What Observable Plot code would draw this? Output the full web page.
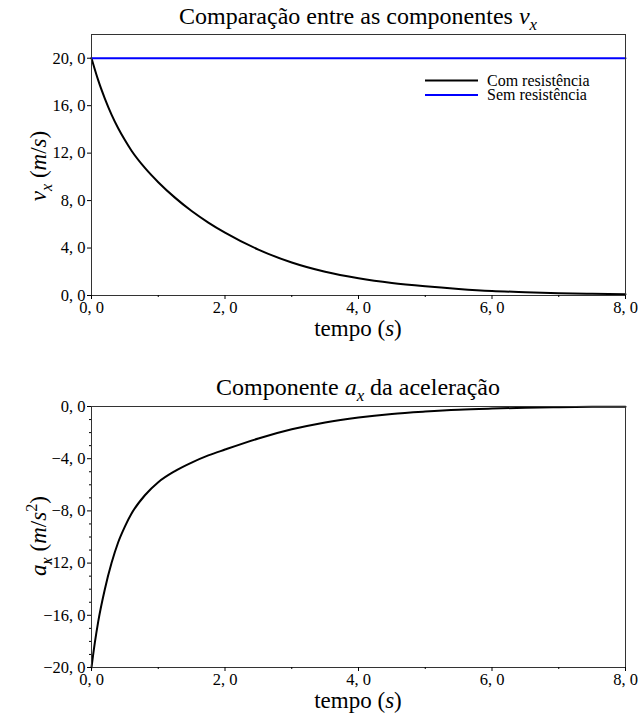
<!DOCTYPE html>
<html><head><meta charset="utf-8">
<script src="https://cdn.jsdelivr.net/npm/d3@7"></script>
<script src="https://cdn.jsdelivr.net/npm/@observablehq/plot@0.6"></script>
<style>
body{margin:0;background:#fff;}
#chart svg{display:block;}
#chart svg text{font-family:"Liberation Serif" !important;}
</style></head><body><div id="chart"></div>
<script>
// ---- data ----
const tempo = [0, 0.05, 0.1, 0.2, 0.3, 0.4, 0.5, 0.6, 0.8, 1.0, 1.25, 1.5, 1.75, 2.0, 2.5, 3.0, 3.5, 4.0, 4.5, 5.0, 5.5, 6.0, 6.5, 7.0, 7.5, 8.0];
const vComResistencia = [20, 19.05, 18.15, 16.6, 15.25, 14.1, 13.1, 12.2, 10.75, 9.55, 8.25, 7.12, 6.15, 5.3, 3.87, 2.78, 2.0, 1.45, 1.05, 0.77, 0.55, 0.38, 0.28, 0.2, 0.15, 0.11];
const aComResistencia = [-20, -18.1, -16.5, -14.0, -12.0, -10.4, -9.2, -8.2, -6.8, -5.8, -4.95, -4.3, -3.75, -3.3, -2.45, -1.75, -1.22, -0.84, -0.57, -0.39, -0.25, -0.16, -0.09, -0.05, -0.02, -0.01];
const tempoSemResistencia = [0, 8];
const vSemResistencia = [20, 20];

const xTicks = [0, 2, 4, 6, 8];
const xMinorTicks = [1, 3, 5, 7];
const vTicks = [0, 4, 8, 12, 16, 20];
const aTicks = [-20, -16, -12, -8, -4, 0];
const aMinorTicks = [-19, -18, -17, -15, -14, -13, -11, -10, -9, -7, -6, -5, -3, -2, -1];
const legendLabels = ["Com resistência", "Sem resistência"];
const legendColors = ["black", "#0000ff"];

// ---- helpers ----
const FONT = "Liberation Serif";
const TICK_FS = 16.5;
const fmt = d => (d < 0 ? "\u2212" : "") + Math.abs(d).toFixed(1).replace(".", ", ");
const rowsV = tempo.map((t, i) => ({t, v: vComResistencia[i]}));
const rowsA = tempo.map((t, i) => ({t, a: aComResistencia[i]}));
const rowsSem = tempoSemResistencia.map((t, i) => ({t, v: vSemResistencia[i]}));

function rich(svg, x, y, parts, size, rotate) {
  const t = svg.append("text")
    .attr("font-family", FONT).attr("font-size", size).attr("fill", "black")
    .attr("text-anchor", "middle")
    .attr("transform", `translate(${x},${y})` + (rotate ? " rotate(-90)" : ""));
  for (const [s, st] of parts) {
    const sp = t.append("tspan").text(s);
    if (st && st.includes("i")) sp.attr("font-style", "italic");
    if (st && st.includes("sub")) { sp.attr("font-size", size * 0.7).attr("dy", size * 0.25); }
    if (st && st.includes("sup")) { sp.attr("font-size", size * 0.7).attr("dy", -size * 0.4); }
    if (st && st.includes("rs")) sp.attr("dy", -size * 0.25);
    if (st && st.includes("rp")) sp.attr("dy", size * 0.4);
  }
  return t;
}

const W = 639;
const axOpts = {fontFamily: FONT, fontSize: TICK_FS, label: null};

function axes(yTicks, yMinor) {
  const m = [
    Plot.frame({stroke: "#333"}),
    Plot.axisX({...axOpts, ticks: xTicks, tickFormat: fmt, tickSize: 4, tickPadding: 2}),
    Plot.axisX({...axOpts, ticks: xMinorTicks, tickFormat: () => "", tickSize: 2}),
    Plot.axisY({...axOpts, ticks: yTicks, tickFormat: fmt, tickSize: 4, tickPadding: 2})
  ];
  if (yMinor) m.push(Plot.axisY({...axOpts, ticks: yMinor, tickFormat: () => "", tickSize: 2}));
  return m;
}

// ---- top chart ----
const topChart = Plot.plot({
  width: W, height: 350, marginLeft: 91, marginRight: 14, marginTop: 34, marginBottom: 55,
  style: {background: "white", color: "black", overflow: "visible"},
  x: {domain: [0, 8], label: null},
  y: {domain: [0, 22], label: null},
  marks: [
    Plot.line(rowsV, {x: "t", y: "v", stroke: legendColors[0], strokeWidth: 2, curve: "monotone-x"}),
    Plot.line(rowsSem, {x: "t", y: "v", stroke: legendColors[1], strokeWidth: 2}),
    ...axes(vTicks, null)
  ]
});

// ---- bottom chart ----
const bottomChart = Plot.plot({
  width: W, height: 367, marginLeft: 91, marginRight: 14, marginTop: 56, marginBottom: 50,
  style: {background: "white", color: "black", overflow: "visible"},
  x: {domain: [0, 8], label: null},
  y: {domain: [-20, 0], label: null},
  marks: [
    Plot.line(rowsA, {x: "t", y: "a", stroke: "black", strokeWidth: 2, curve: "monotone-x"}),
    ...axes(aTicks, aMinorTicks)
  ]
});

const chart = document.getElementById("chart");
chart.append(topChart, bottomChart);

// force serif tick labels at the wanted size
for (const svg of [topChart, bottomChart]) {
  svg.querySelectorAll("text").forEach(el => {
    el.style.setProperty("font-family", FONT, "important");
    el.style.setProperty("font-size", TICK_FS + "px", "important");
  });
}

// ---- texts ----
const st = d3.select(topChart);
rich(st, 358, 24, [["Comparação entre as componentes "], ["v", "i"], ["x", "i sub"]], 24);
rich(st, 46, 166, [["v", "i"], ["x", "i sub"], [" (", "rs"], ["m", "i"], ["/"], ["s", "i"], [")"]], 23, true);
rich(st, 358, 336, [["tempo ("], ["s", "i"], [")"]], 23);

const lg = st.append("g");
legendLabels.forEach((lab, i) => {
  const y = 80.5 + i * 14.5;
  lg.append("line").attr("x1", 425).attr("x2", 478).attr("y1", y).attr("y2", y)
    .attr("stroke", legendColors[i]).attr("stroke-width", 2);
  lg.append("text").attr("x", 487).attr("y", y + 5).attr("font-family", FONT)
    .attr("font-size", 16).attr("text-anchor", "start").attr("fill", "black").text(lab);
});

const sb = d3.select(bottomChart);
rich(sb, 358, 45, [["Componente "], ["a", "i"], ["x", "i sub"], [" da aceleração", "rs"]], 24);
rich(sb, 46, 186, [["a", "i"], ["x", "i sub"], [" (", "rs"], ["m", "i"], ["/"], ["s", "i"], ["2", "sup"], [")", "rp"]], 23, true);
rich(sb, 358, 358, [["tempo ("], ["s", "i"], [")"]], 23);
</script></body></html>
